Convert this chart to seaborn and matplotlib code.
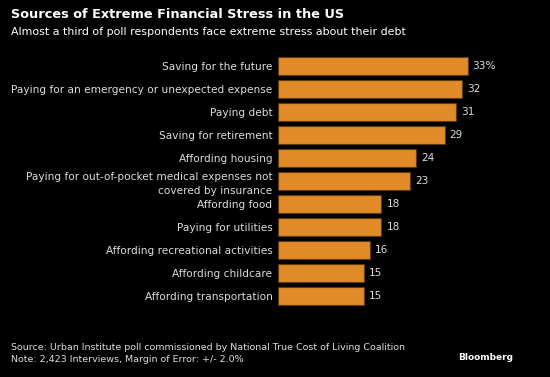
import matplotlib
matplotlib.use("Agg")
import matplotlib.pyplot as plt
import seaborn as sns
import pandas as pd

# data
categories = [
    "Saving for the future",
    "Paying for an emergency or unexpected expense",
    "Paying debt",
    "Saving for retirement",
    "Affording housing",
    "Paying for out-of-pocket medical expenses not\ncovered by insurance",
    "Affording food",
    "Paying for utilities",
    "Affording recreational activities",
    "Affording childcare",
    "Affording transportation",
]
values = [33, 32, 31, 29, 24, 23, 18, 18, 16, 15, 15]
value_labels = ["33%", "32", "31", "29", "24", "23", "18", "18", "16", "15", "15"]

df = pd.DataFrame({"source": categories, "pct": values})

sns.set_style("dark")
plt.rcParams["font.family"] = ["DejaVu Sans"]

bg = "black"
bar_color = "#E08B27"
text_color = "#dcdcdc"

fig = plt.figure(figsize=(5.5, 3.77), dpi=100, facecolor=bg)
ax = fig.add_axes([278 / 550, 1 - 307.5 / 377, 201 / 550, 253 / 377])
ax.set_facecolor(bg)

sns.barplot(data=df, x="pct", y="source", orient="h", color=bar_color,
            saturation=1, width=0.78, edgecolor="#5c3a10", linewidth=0.8, ax=ax)

ax.set_xlim(0, 35)
ax.set_xlabel("")
ax.set_ylabel("")
ax.set_xticks([])
for s in ax.spines.values():
    s.set_visible(False)
ax.grid(False)
ax.tick_params(axis="y", length=0, pad=4, labelsize=7.6, labelcolor=text_color)
for lab in ax.get_yticklabels():
    lab.set_linespacing(1.55)

for i, (v, t) in enumerate(zip(values, value_labels)):
    ax.text(v + 0.9, i, t, va="center", ha="left", fontsize=7.6, color=text_color)

fig.text(11 / 550, 1 - 15 / 377, "Sources of Extreme Financial Stress in the US",
         fontsize=9.3, fontweight="bold", color="white", va="center", ha="left")
fig.text(11 / 550, 1 - 32 / 377, "Almost a third of poll respondents face extreme stress about their debt",
         fontsize=7.9, color="white", va="center", ha="left")
fig.text(11 / 550, 1 - 348 / 377,
         "Source: Urban Institute poll commissioned by National True Cost of Living Coalition",
         fontsize=6.8, color=text_color, va="center", ha="left")
fig.text(11 / 550, 1 - 359 / 377, "Note: 2,423 Interviews, Margin of Error: +/- 2.0%",
         fontsize=6.8, color=text_color, va="center", ha="left")
fig.text(513 / 550, 1 - 357 / 377, "Bloomberg", fontsize=6.5, fontweight="bold",
         color="white", va="center", ha="right")

fig.savefig("out.png", dpi=100, facecolor=bg)
